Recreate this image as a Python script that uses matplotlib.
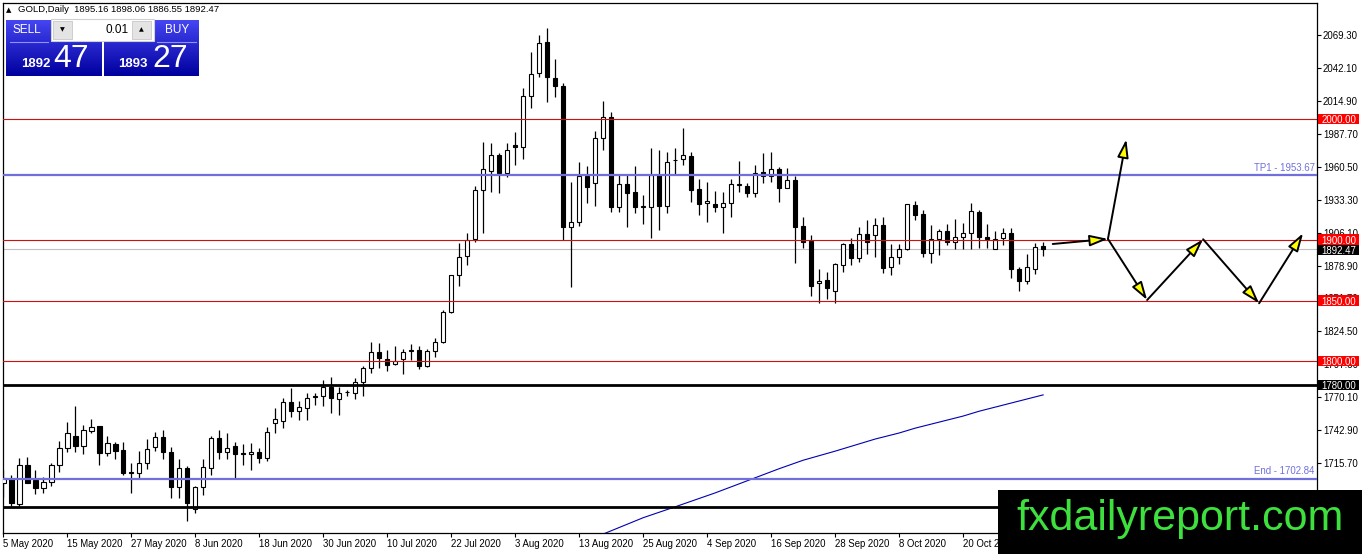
import numpy as np
import matplotlib
matplotlib.use("Agg")
import matplotlib.pyplot as plt
from matplotlib.patches import Rectangle, FancyArrowPatch

plt.rcParams['font.family'] = ['Liberation Sans', 'DejaVu Sans']

# daily GOLD candles, bar 0 = 5 May 2020
opens = np.array([
    1699.0, 1702.2, 1681.8, 1713.8, 1701.7, 1694.8, 1700.3, 1714.1, 1727.8, 1738.0,
    1730.0, 1742.4, 1746.3, 1724.2, 1731.4, 1726.4, 1708.3, 1707.7, 1716.0, 1729.2,
    1736.9, 1725.1, 1696.1, 1711.3, 1677.4, 1695.6, 1711.3, 1736.1, 1725.1, 1729.8,
    1724.0, 1723.1, 1725.1, 1720.1, 1748.5, 1750.0, 1766.1, 1758.9, 1761.4, 1770.5,
    1771.1, 1778.8, 1768.3, 1774.0, 1773.3, 1782.4, 1794.0, 1807.2, 1801.4, 1797.5,
    1801.4, 1808.5, 1808.8, 1795.9, 1808.5, 1816.0, 1840.2, 1870.8, 1886.8, 1900.5,
    1941.3, 1957.3, 1970.2, 1955.1, 1978.5, 1976.6, 2019.0, 2037.7, 2063.6, 2033.6,
    2027.3, 1910.5, 1915.1, 1952.9, 1946.8, 1984.0, 2001.4, 1927.5, 1946.3, 1939.7,
    1927.5, 1927.5, 1953.7, 1928.3, 1966.1, 1966.6, 1969.4, 1941.8, 1930.3, 1929.7,
    1927.5, 1930.8, 1945.4, 1944.6, 1939.1, 1955.9, 1952.9, 1958.4, 1943.2, 1949.5,
    1911.5, 1899.4, 1864.2, 1866.9, 1858.1, 1879.3, 1896.4, 1884.8, 1904.6, 1904.1,
    1912.1, 1877.4, 1885.6, 1892.2, 1928.9, 1921.4, 1889.5, 1900.5, 1907.4, 1898.6,
    1902.7, 1906.0, 1923.1, 1902.7, 1892.2, 1901.3, 1905.5, 1875.7, 1866.1, 1875.7,
    1895.16])
highs = np.array([
    1709.9, 1705.8, 1719.6, 1720.4, 1709.9, 1704.4, 1715.4, 1733.9, 1749.3, 1762.8,
    1747.1, 1751.8, 1746.3, 1738.0, 1733.3, 1733.3, 1716.0, 1725.9, 1735.3, 1741.6,
    1743.0, 1729.2, 1718.7, 1713.2, 1696.7, 1718.7, 1738.0, 1743.0, 1740.2, 1733.3,
    1731.1, 1732.5, 1727.8, 1745.7, 1760.9, 1769.2, 1777.4, 1767.2, 1773.3, 1773.3,
    1784.3, 1787.1, 1778.8, 1776.0, 1785.7, 1795.9, 1816.0, 1814.6, 1809.1, 1812.4,
    1809.7, 1813.8, 1812.4, 1809.7, 1818.7, 1842.2, 1870.8, 1897.3, 1905.5, 1944.6,
    1981.2, 1979.9, 1972.1, 1980.0, 1989.5, 2025.3, 2055.6, 2069.4, 2074.9, 2049.3,
    2029.5, 1948.2, 1964.7, 1961.1, 1990.3, 2015.1, 2006.0, 1953.7, 1954.5, 1961.1,
    1937.2, 1975.7, 1974.4, 1973.0, 1975.7, 1992.3, 1973.0, 1950.4, 1947.6, 1940.5,
    1940.0, 1950.1, 1965.5, 1947.4, 1962.0, 1971.6, 1973.0, 1960.0, 1959.2, 1952.8,
    1918.7, 1904.1, 1875.7, 1873.8, 1881.2, 1897.8, 1901.3, 1910.4, 1916.5, 1917.9,
    1919.2, 1896.7, 1896.7, 1929.7, 1932.2, 1924.7, 1912.4, 1908.8, 1913.2, 1917.3,
    1913.7, 1930.8, 1924.7, 1912.9, 1907.4, 1909.6, 1909.6, 1877.9, 1888.4, 1897.8,
    1898.06])
lows = np.array([
    1687.9, 1680.2, 1680.2, 1698.9, 1689.8, 1691.2, 1696.7, 1708.5, 1725.1, 1725.1,
    1723.1, 1740.2, 1714.1, 1721.5, 1718.7, 1705.8, 1691.2, 1702.2, 1710.5, 1725.6,
    1719.0, 1686.5, 1686.5, 1667.5, 1674.7, 1689.3, 1705.8, 1719.0, 1719.0, 1702.2,
    1714.1, 1709.9, 1715.4, 1717.6, 1740.2, 1745.0, 1754.0, 1751.3, 1751.0, 1763.7,
    1762.8, 1757.3, 1755.4, 1771.1, 1768.3, 1771.1, 1789.8, 1794.0, 1792.0, 1796.7,
    1789.3, 1800.8, 1793.1, 1795.3, 1803.6, 1814.6, 1839.4, 1862.0, 1879.4, 1898.6,
    1905.5, 1939.9, 1938.5, 1952.0, 1962.0, 1966.6, 2008.8, 2034.4, 2014.3, 2018.4,
    1900.0, 1861.4, 1911.6, 1930.8, 1928.1, 1974.4, 1923.4, 1923.4, 1910.5, 1922.6,
    1913.0, 1901.4, 1908.2, 1922.0, 1954.5, 1962.0, 1931.7, 1920.6, 1915.1, 1922.8,
    1905.5, 1918.7, 1940.0, 1935.8, 1935.8, 1947.4, 1948.2, 1931.6, 1942.7, 1881.2,
    1893.1, 1853.7, 1847.6, 1850.9, 1847.6, 1873.8, 1879.3, 1882.1, 1888.4, 1885.6,
    1872.9, 1871.0, 1880.1, 1891.7, 1916.5, 1885.6, 1881.2, 1887.6, 1895.8, 1892.2,
    1892.2, 1892.2, 1893.1, 1893.1, 1892.2, 1895.8, 1868.3, 1858.1, 1863.6, 1871.8,
    1886.55])
closes = np.array([
    1703.0, 1682.9, 1713.8, 1699.5, 1694.8, 1699.7, 1713.8, 1727.8, 1740.2, 1730.0,
    1743.0, 1745.7, 1724.2, 1731.9, 1725.9, 1707.7, 1707.2, 1715.4, 1727.0, 1736.9,
    1725.1, 1696.1, 1711.3, 1682.9, 1695.6, 1712.1, 1736.1, 1725.1, 1727.8, 1723.1,
    1723.1, 1724.5, 1720.1, 1741.6, 1751.8, 1766.0, 1758.4, 1761.7, 1769.7, 1770.8,
    1778.8, 1769.2, 1773.3, 1774.4, 1782.9, 1794.0, 1807.2, 1802.2, 1796.4, 1800.3,
    1807.7, 1808.8, 1795.9, 1808.5, 1816.0, 1840.2, 1870.8, 1886.2, 1900.0, 1941.3,
    1958.4, 1970.2, 1955.1, 1974.4, 1976.6, 2019.0, 2037.2, 2062.5, 2034.4, 2027.3,
    1910.5, 1915.1, 1952.9, 1943.5, 1984.0, 2001.4, 1927.5, 1946.3, 1939.1, 1927.5,
    1927.8, 1953.7, 1928.3, 1964.2, 1966.4, 1970.2, 1941.3, 1929.5, 1932.5, 1927.5,
    1930.3, 1946.0, 1946.0, 1939.1, 1955.1, 1953.1, 1958.4, 1943.2, 1949.5, 1911.0,
    1898.6, 1862.2, 1866.4, 1860.0, 1879.8, 1896.4, 1884.8, 1904.6, 1898.0, 1912.1,
    1876.5, 1885.6, 1892.2, 1929.7, 1920.6, 1889.5, 1900.5, 1907.4, 1898.0, 1902.7,
    1905.5, 1923.9, 1902.7, 1900.5, 1900.5, 1906.0, 1875.7, 1866.4, 1877.9, 1894.4,
    1892.47])

# moving average read at a few bars
ma_bars = [75, 80, 84, 89, 93, 97, 100, 104, 109, 112, 114, 120, 122, 130]
ma_vals = [1657.0, 1670.5, 1679.5, 1691.0, 1701.0, 1711.0, 1718.0, 1725.5,
           1735.5, 1740.5, 1744.5, 1754.5, 1758.5, 1772.0]

date_bars = [0, 8, 16, 24, 32, 40, 48, 56, 64, 72, 80, 88, 96, 104, 112, 120]
date_labels = ['5 May 2020', '15 May 2020', '27 May 2020', '8 Jun 2020', '18 Jun 2020',
               '30 Jun 2020', '10 Jul 2020', '22 Jul 2020', '3 Aug 2020', '13 Aug 2020',
               '25 Aug 2020', '4 Sep 2020', '16 Sep 2020', '28 Sep 2020', '8 Oct 2020',
               '20 Oct 2020']
# ticks below 1715.70 sit under the watermark
price_ticks = [1715.70, 1742.90, 1770.10, 1797.30, 1824.50, 1851.70,
               1878.90, 1906.10, 1933.30, 1960.50, 1987.70, 2014.90, 2042.10, 2069.30]

red_levels = [2000.0, 1900.0, 1850.0, 1800.0]
black_levels = [1780.0, 1679.0]
tp1 = 1953.67
end_level = 1702.84
bid = 1892.47

# projected path drawn as arrows (bar, price)
arrow_legs = [((131.2, 1896.7), (138.1, 1900.9)),
              ((138.1, 1900.9), (140.4, 1983.2)),
              ((138.1, 1900.9), (143.0, 1850.4)),
              ((143.0, 1850.4), (150.0, 1900.6)),
              ((150.0, 1900.6), (157.0, 1847.7)),
              ((157.0, 1847.7), (162.5, 1905.6))]

W, H = 1362, 554
fig = plt.figure(figsize=(W / 100, H / 100), dpi=100)
fig.patch.set_facecolor('white')
ax = fig.add_axes([3 / W, (H - 533) / H, (1316.7 - 3) / W, (533 - 3) / H])

idx = np.arange(len(opens))
up = closes >= opens
ax.vlines(idx, lows, highs, color='black', lw=0.9, zorder=2)
ax.bar(idx, np.maximum(np.abs(closes - opens), 0.3), bottom=np.minimum(opens, closes),
       width=0.55, color=np.where(up, 'white', 'black'), edgecolor='black',
       linewidth=0.8, zorder=3)

ax.plot(ma_bars, ma_vals, color='#0000b4', lw=0.8, zorder=4)

ax.axhline(bid, color='#c0c0c0', lw=0.8, zorder=1)
for lv in red_levels:
    ax.axhline(lv, color='#d01010', lw=0.8, zorder=4)
for lv in black_levels:
    ax.axhline(lv, color='black', lw=2.0, zorder=4)
for lv, name in [(tp1, 'TP1'), (end_level, 'End')]:
    ax.axhline(lv, color='#7070dc', lw=1.6, zorder=4)
    ax.annotate(f'{name} - {lv:.2f}', xy=(1.0, lv), xycoords=('axes fraction', 'data'),
                xytext=(-1.5, 1.5), textcoords='offset points', ha='right', va='bottom',
                color='#7070dc', fontsize=6.9, zorder=5)

for a, b in arrow_legs:
    ax.add_patch(FancyArrowPatch(a, b, arrowstyle='-|>,head_length=11,head_width=3.4',
                                 mutation_scale=1, shrinkA=0, shrinkB=0, fc='#ffff00',
                                 ec='black', lw=1.4, zorder=6))

ax.set_xlim(-0.04, 164.2)
ax.set_ylim(1657.85, 2095.87)
ax.yaxis.tick_right()
ax.set_yticks(price_ticks, [f'{p:.2f}' for p in price_ticks])
ax.set_xticks(date_bars, date_labels)
for t in ax.get_xticklabels():
    t.set_horizontalalignment('left')
ax.tick_params(axis='y', direction='out', length=3, width=0.8, labelsize=6.9, pad=1.5)
ax.tick_params(axis='x', direction='out', length=3, width=0.8, labelsize=6.9, pad=1.5)
for s in ax.spines.values():
    s.set_linewidth(0.9)

# price tags on the scale: fixed-height boxes (about 10 px) with text on top
tags = [(2000.0, '#ff0000', 0.0), (1900.0, '#ff0000', 0.4), (bid, 'black', -0.9),
        (1850.0, '#ff0000', 0.0), (1800.0, '#ff0000', 0.0), (1780.0, 'black', 0.0)]
ytr = ax.get_yaxis_transform()
px_per_usd = 1.21
box_h = 10.5 / px_per_usd
for lv, fc, shift in tags:
    yc = lv + shift
    ax.add_patch(Rectangle((1.0008, yc - box_h / 2), 0.0317, box_h, transform=ytr,
                           fc=fc, ec='none', clip_on=False, zorder=10))
    ax.text(1.0036, yc, f'{lv:.2f}', transform=ytr, ha='left', va='center_baseline',
            color='white', fontsize=6.9, clip_on=False, zorder=11)

# trading panel, header and watermark in pixel space
ui = fig.add_axes([0, 0, 1, 1], zorder=5)
ui.set_axis_off()
ui.patch.set_alpha(0)

ui.text(6, 10, '\u25b2', fontsize=5, va='center', ha='left', family='DejaVu Sans')
ui.text(18, 10, 'GOLD,Daily  1895.16 1898.06 1886.55 1892.47', fontsize=6.8,
        va='center', ha='left')

grad = np.linspace(0, 1, 64)[:, None, None]
top_c = np.array([0.27, 0.27, 0.95])
bot_c = np.array([0.0, 0.0, 0.62])
grad_img = top_c * (1 - grad) + bot_c * grad
for x0, x1 in [(6, 102), (104, 199)]:
    ui.imshow(grad_img, extent=(x0, x1, 76, 20), aspect='auto', origin='upper', zorder=1)
ui.plot([10, 48], [42, 42], color='#9090ff', lw=0.8, zorder=2)
ui.plot([157, 196], [42, 42], color='#9090ff', lw=0.8, zorder=2)
ui.text(27, 30, 'SELL', color='white', fontsize=8.5, ha='center', va='center', zorder=3)
ui.text(177, 30, 'BUY', color='white', fontsize=8.5, ha='center', va='center', zorder=3)
ui.add_patch(Rectangle((51, 19), 103, 22, fc='white', ec='#d0d0d0', lw=0.8, zorder=2))
for bx in (53, 132):
    ui.add_patch(Rectangle((bx, 21), 19, 18, fc='#e4e4e4', ec='#c8c8c8', lw=0.6, zorder=3))
ui.text(62.5, 30, '\u25bc', fontsize=4.5, ha='center', va='center', zorder=4,
        family='DejaVu Sans')
ui.text(141.5, 30, '\u25b2', fontsize=4.5, ha='center', va='center', zorder=4,
        family='DejaVu Sans')
ui.text(129, 30, '0.01', fontsize=8.5, ha='right', va='center', zorder=4)
ui.text(50, 64, '1892', color='white', fontsize=9.5, fontweight='bold', ha='right',
        va='center', zorder=3)
ui.text(53, 59, '47', color='white', fontsize=23, ha='left', va='center', zorder=3)
ui.text(148, 64, '1893', color='white', fontsize=9.5, fontweight='bold', ha='right',
        va='center', zorder=3)
ui.text(152, 59, '27', color='white', fontsize=23, ha='left', va='center', zorder=3)

ui.add_patch(Rectangle((998, 490), 364, 64, fc='black', ec='none', zorder=2))
ui.text(1180, 519, 'fxdailyreport.com', color='#3ee03e', fontsize=31, ha='center',
        va='center', zorder=3)

ui.set_xlim(0, W)
ui.set_ylim(H, 0)

fig.savefig('out.png', dpi=100)
